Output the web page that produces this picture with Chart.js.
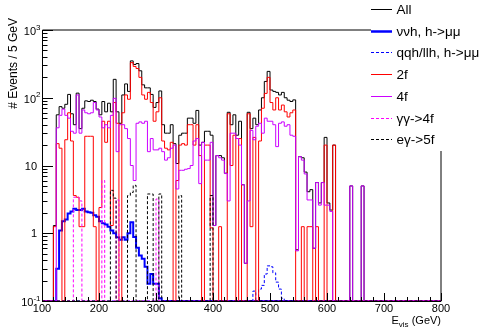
<!DOCTYPE html>
<html>
<head>
<meta charset="utf-8">
<title>E_vis</title>
<script src="https://cdn.jsdelivr.net/npm/chart.js@4.4.1/dist/chart.umd.min.js"></script>
<style>
  html, body { margin: 0; padding: 0; background: #fff; }
  #wrap { position: relative; width: 483px; height: 331px; overflow: hidden; }
</style>
</head>
<body>
<div id="wrap"><canvas id="evis" width="483" height="331"></canvas></div>
<script>
// Binning: 5 GeV bins starting at 100 GeV (values below are per bin, 100-700 GeV)
const binLow = 100;
const binWidth = 5;
const xRange = [100, 800];
const yRange = [0.1, 1000];
const xMajorTicks = [100, 200, 300, 400, 500, 600, 700, 800];
const yMajorTicks = [0.1, 1, 10, 100, 1000];
const yTickLabels = [['10', '-1'], ['1', ''], ['10', ''], ['10', '2'], ['10', '3']];

const seriesLabels = ['All', 'ννh, h->μμ', 'qqh/llh, h->μμ', '2f', '4f', 'γγ->4f', 'eγ->5f'];

const allEvents = [
  0, 0, 0, 0, 1.3, 56, 74, 70, 80, 112,
  58, 40, 117, 35, 70, 90, 88, 92, 88, 68,
  56, 88, 62, 83, 62, 187, 62, 42, 110, 160,
  124, 350, 310, 320, 250, 155, 140, 140, 112, 72,
  85, 126, 40, 30, 30, 40, 21, 10.7, 28, 30,
  30, 50, 50, 42, 65, 20, 22, 32, 32, 28,
  1.3, 14, 14, 13, 7.7, 61, 40, 56, 28, 45,
  5.2, 0.36, 61, 35, 50, 40, 66, 100, 174, 245,
  130, 124, 120, 110, 120, 100, 92, 88, 93, 0.57,
  13.5, 13, 8, 4.1, 4.4, 0.6, 5.6, 2.8, 5.6, 26,
  2.8, 2.2, 20, 0, 0, 0, 0, 0, 5, 0,
  0, 0, 5, 0, 0, 0, 0, 0, 0, 0
];

const nunuH = [
  0, 0, 0, 0, 0, 0.3, 1.1, 1.5, 1.6, 1.95,
  2.1, 2.3, 2.2, 2.2, 2.3, 2.1, 2.05, 2.0, 1.85, 1.75,
  1.5, 1.4, 1.35, 1.25, 1.1, 1.0, 0.87, 0.8, 0.87, 0.8,
  1.0, 1.45, 0.88, 0.61, 0.47, 0.42, 0.32, 0.18, 0.25, 0.18,
  0.18, 0.11, 0, 0, 0, 0, 0, 0, 0, 0,
  0, 0, 0, 0, 0, 0, 0, 0, 0, 0,
  0, 0, 0, 0, 0, 0, 0, 0, 0, 0,
  0, 0, 0, 0, 0, 0, 0, 0, 0, 0,
  0, 0, 0, 0, 0, 0, 0, 0, 0, 0,
  0, 0, 0, 0, 0, 0, 0, 0, 0, 0,
  0, 0, 0, 0, 0, 0, 0, 0, 0, 0,
  0, 0, 0, 0, 0, 0, 0, 0, 0, 0
];

const qqllH = [
  0, 0, 0, 0, 0, 0, 0, 0, 0, 0,
  0, 0, 0, 0, 0, 0, 0, 0, 0, 0,
  0, 0, 0, 0, 0, 0, 0, 0, 0, 0,
  0, 0, 0, 0, 0, 0, 0, 0, 0, 0,
  0, 0, 0, 0, 0, 0, 0, 0, 0, 0,
  0, 0, 0, 0, 0, 0, 0, 0, 0, 0,
  0, 0, 0, 0, 0, 0, 0, 0, 0, 0,
  0, 0, 0, 0, 0.14, 0, 0.15, 0.17, 0.25, 0.33,
  0.32, 0.26, 0.19, 0.15, 0.11, 0, 0, 0, 0, 0,
  0, 0, 0, 0, 0, 0, 0, 0, 0, 0,
  0, 0, 0, 0, 0, 0, 0, 0, 0, 0,
  0, 0, 0, 0, 0, 0, 0, 0, 0, 0
];

const twoFermion = [
  0, 0, 0, 0, 1.25, 21, 18, 0, 24, 60,
  23, 3.6, 3.4, 1.25, 1.25, 27, 27, 27, 1.25, 0,
  2.4, 45, 22, 45, 1.3, 85, 42, 0, 60, 110,
  95, 330, 290, 270, 200, 110, 95, 120, 85, 45,
  62, 100, 23, 18, 17, 22, 0, 6, 20, 21,
  20, 40, 40, 20, 40, 14, 0, 20, 20, 1.2,
  0, 0, 1.25, 0, 0, 58, 10, 28, 0, 25,
  0, 0, 58, 1.25, 26, 0, 23, 70, 116, 200,
  85, 66, 100, 66, 78, 62, 52, 60, 66, 0,
  0, 1.25, 0, 1.25, 1.25, 0, 1.25, 0, 0, 20,
  0, 0, 20, 0, 0, 0, 0, 0, 0, 0,
  0, 0, 0, 0, 0, 0, 0, 0, 0, 0
];

const fourFermion = [
  0, 0, 0, 0, 0, 36, 55, 68, 55, 50,
  32, 30, 110, 30, 66, 60, 58, 60, 85, 66,
  52, 36, 40, 36, 55, 98, 16, 40, 40, 35,
  25, 10, 6, 42, 44, 42, 45, 16, 25, 17,
  17, 18, 16, 12, 13, 18, 20, 4.5, 8.5, 8.5,
  8.8, 9, 10, 23, 25, 5.4, 22, 12, 12, 22,
  1.3, 14, 13, 12, 7.6, 3, 30, 30, 25, 20,
  5.2, 0.36, 3, 33, 24, 38, 42, 30, 50, 45,
  45, 40, 19, 42, 44, 38, 40, 28, 27, 0.55,
  13.5, 12, 7.5, 3.1, 3.1, 0.6, 5.6, 2.6, 5.6, 2.6,
  2.6, 2.1, 0, 0, 0, 0, 0, 0, 5, 0,
  0, 0, 5, 0, 0, 0, 0, 0, 0, 0
];

const gammaGamma4f = [
  0, 0, 0, 0, 0, 0, 0, 0, 0, 0,
  0, 3.4, 3.4, 3.0, 0, 0, 0, 0, 0, 0,
  0, 6.0, 0, 0, 0, 0, 3.1, 0, 0, 0,
  0, 0, 0, 0, 0, 0, 0, 0, 0, 0,
  3.2, 0, 0, 0, 0, 0, 0, 0, 0, 0,
  0, 0, 0, 0, 0, 0, 0, 0, 0, 0,
  0, 0, 0, 0, 0, 0, 0, 0, 0, 0,
  0, 0, 0, 0, 0, 0, 0, 0, 0, 0,
  0, 0, 0, 0, 0, 0, 0, 0, 0, 0,
  0, 0, 0, 0, 0, 0, 0, 0, 0, 0,
  0, 0, 0, 0, 0, 0, 0, 0, 0, 0,
  0, 0, 0, 0, 0, 0, 0, 0, 0, 0
];

const eGamma5f = [
  0, 0, 0, 0, 0, 0, 0, 0, 0, 0,
  0, 0, 0, 0, 0, 0, 0, 0, 0, 0,
  0, 0, 0, 0, 4.3, 3.3, 0, 0, 0, 0,
  3.6, 4.0, 5.1, 0, 0, 0, 0, 3.8, 3.8, 0,
  0, 3.8, 0, 0, 0, 0, 0, 0, 3.6, 0,
  0, 0, 0, 0, 0, 0, 0, 0, 0, 3.6,
  0, 0, 0, 0, 0, 0, 0, 0, 0, 0,
  0, 0, 0, 0, 0, 0, 0, 0, 0, 0,
  0, 0, 0, 0, 0, 0, 0, 0, 0, 0,
  0, 0, 0, 0, 0, 0, 0, 0, 0, 0,
  0, 0, 0, 0, 0, 0, 0, 0, 0, 0,
  0, 0, 0, 0, 0, 0, 0, 0, 0, 0
];

const seriesValues = [allEvents, nunuH, qqllH, twoFermion, fourFermion, gammaGamma4f, eGamma5f];
const seriesColors = ['#000000', '#0000ff', '#0000ff', '#ff0000', '#cc00ff', '#ff00ff', '#000000'];
const seriesWidths = [1, 2, 1, 1, 1, 1, 1];
const seriesDashes = [[], [], [3, 2], [], [], [3, 2], [3, 2]];

const FONT = '"Liberation Sans", Arial, Helvetica, sans-serif';

// Histogram outline: one point per bin low edge, empty bins sit on the axis floor
function histPoints(vals) {
  const floor = yRange[0];
  const pts = vals.map((v, i) => ({ x: binLow + i * binWidth, y: Math.max(v, floor) }));
  pts.push({ x: binLow + vals.length * binWidth, y: floor });
  pts.push({ x: xRange[1], y: floor });
  return pts;
}

const datasets = seriesValues.map((vals, i) => ({
  label: seriesLabels[i],
  data: histPoints(vals),
  borderColor: seriesColors[i],
  borderWidth: seriesWidths[i],
  borderDash: seriesDashes[i],
  stepped: 'before',
  pointRadius: 0,
  fill: false,
  order: seriesValues.length - i
}));

// ROOT-like frame, inner ticks, labels and legend
const rootStyle = {
  id: 'rootStyle',
  beforeDatasetsDraw(chart) {
    const { ctx, chartArea: a } = chart;
    ctx.save();
    ctx.strokeStyle = '#000';
    ctx.lineWidth = 1;
    ctx.beginPath();
    ctx.moveTo(a.left + 0.5, a.bottom);
    ctx.lineTo(a.left + 0.5, a.top);
    ctx.lineTo(a.right, a.top);
    ctx.lineTo(a.right, a.bottom + 0.5);
    ctx.lineTo(a.left, a.bottom + 0.5);
    ctx.stroke();
    ctx.restore();
  },
  afterDatasetsDraw(chart) {
    const { ctx, chartArea: a, scales: { x, y } } = chart;
    ctx.save();
    ctx.strokeStyle = '#000';
    ctx.lineWidth = 1;
    ctx.beginPath();
    // y ticks (decades + 2..9 minors)
    for (let e = -1; e <= 3; e++) {
      const py = Math.round(y.getPixelForValue(Math.pow(10, e))) + 0.5;
      ctx.moveTo(a.left, py);
      ctx.lineTo(a.left + 11, py);
      if (e < 3) {
        for (let k = 2; k <= 9; k++) {
          const my = Math.round(y.getPixelForValue(k * Math.pow(10, e))) + 0.5;
          ctx.moveTo(a.left, my);
          ctx.lineTo(a.left + 5.5, my);
        }
      }
    }
    // x ticks: major every 100, minor every 20
    for (let v = xRange[0]; v <= xRange[1]; v += 20) {
      const px = Math.round(x.getPixelForValue(v)) + 0.5;
      const len = (v % 100 === 0) ? 8 : 4;
      ctx.moveTo(px, a.bottom);
      ctx.lineTo(px, a.bottom - len);
    }
    ctx.stroke();

    ctx.fillStyle = '#000';
    // x tick labels
    ctx.font = '11px ' + FONT;
    ctx.textAlign = 'center';
    ctx.textBaseline = 'alphabetic';
    xMajorTicks.forEach(v => ctx.fillText(String(v), x.getPixelForValue(v), 312));

    // y tick labels with superscript exponents
    yMajorTicks.forEach((v, i) => {
      const py = y.getPixelForValue(v);
      const [base, exp] = yTickLabels[i];
      ctx.textAlign = 'left';
      if (exp) {
        ctx.font = '8px ' + FONT;
        const we = ctx.measureText(exp).width;
        ctx.font = '11px ' + FONT;
        const wb = ctx.measureText(base).width;
        const right = a.left - 1.5;
        ctx.fillText(base, right - we - wb, py + 5);
        ctx.font = '8px ' + FONT;
        ctx.fillText(exp, right - we, py - 0.5);
      } else {
        ctx.font = '11px ' + FONT;
        ctx.textAlign = 'right';
        ctx.fillText(base, a.left - 5, py + 4);
      }
    });

    // axis titles
    ctx.font = '12px ' + FONT;
    ctx.save();
    ctx.translate(14, 18);
    ctx.rotate(-Math.PI / 2);
    ctx.textAlign = 'right';
    ctx.textBaseline = 'middle';
    ctx.fillText('# Events / 5 GeV', 0, 0);
    ctx.restore();

    ctx.textAlign = 'left';
    ctx.font = '11px ' + FONT;
    const wE = ctx.measureText('E').width;
    const wRest = ctx.measureText(' (GeV)').width;
    ctx.font = '8px ' + FONT;
    const wSub = ctx.measureText('vis').width;
    let tx = a.right - (wE + wSub + wRest);
    ctx.font = '11px ' + FONT;
    ctx.fillText('E', tx, 323.5);
    ctx.font = '8px ' + FONT;
    ctx.fillText('vis', tx + wE, 326.5);
    ctx.font = '11px ' + FONT;
    ctx.fillText(' (GeV)', tx + wE + wSub, 323.5);
    ctx.restore();
  },
  afterDraw(chart) {
    const { ctx } = chart;
    ctx.save();
    ctx.fillStyle = '#fff';
    ctx.fillRect(371, 0, 112, 151);
    ctx.font = '13.5px ' + FONT;
    ctx.textBaseline = 'middle';
    ctx.textAlign = 'left';
    seriesLabels.forEach((lab, i) => {
      const ry = Math.round(9 + i * 21.7) + 0.5;
      ctx.strokeStyle = seriesColors[i];
      ctx.lineWidth = seriesWidths[i] === 2 ? 2.5 : 1;
      ctx.setLineDash(seriesDashes[i]);
      ctx.beginPath();
      ctx.moveTo(371, ry);
      ctx.lineTo(392, ry);
      ctx.stroke();
      ctx.fillStyle = '#000';
      ctx.fillText(lab, 396.5, ry + 0.5);
    });
    ctx.restore();
  }
};

new Chart(document.getElementById('evis'), {
  type: 'line',
  data: { datasets },
  options: {
    responsive: false,
    animation: false,
    devicePixelRatio: 1,
    layout: { padding: { left: 42, right: 42, top: 30, bottom: 30 } },
    plugins: { legend: { display: false }, tooltip: { enabled: false } },
    elements: { line: { tension: 0 } },
    scales: {
      x: { type: 'linear', min: xRange[0], max: xRange[1], display: false },
      y: { type: 'logarithmic', min: yRange[0], max: yRange[1], display: false }
    }
  },
  plugins: [rootStyle]
});
</script>
</body>
</html>
